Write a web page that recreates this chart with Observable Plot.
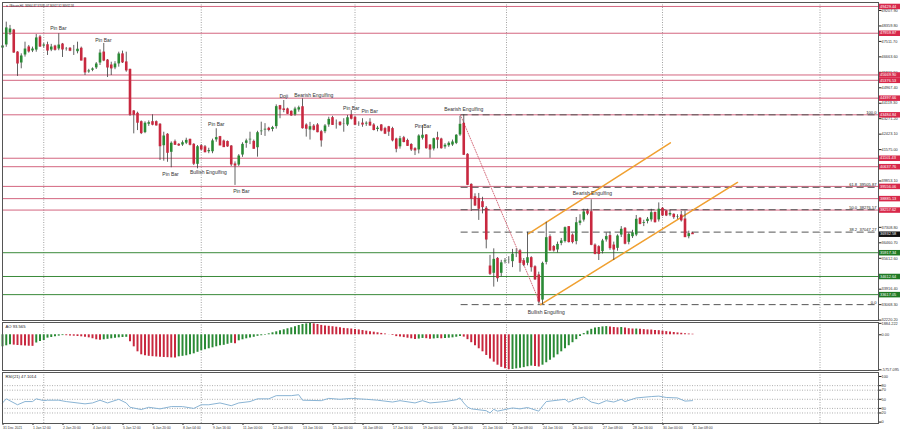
<!DOCTYPE html>
<html><head><meta charset="utf-8">
<script src="https://cdn.jsdelivr.net/npm/d3@7"></script>
<script src="https://cdn.jsdelivr.net/npm/@observablehq/plot@0.6"></script>
<style>
body{margin:0;background:#fff;}
#wrap{position:relative;width:900px;height:433px;overflow:hidden;background:#fff;}
#wrap svg{position:absolute;left:0;overflow:visible;}
</style></head><body><div id="wrap"></div>
<script>
// ---------- DATA ----------
const symbolTitle = "▼ #Bitcoin,H4  36964.87 37035.07 36917.32 36932.58";
const opens = [
47120,47290,47950,48110,46900,46300,46740,47180,46960,47010,
47730,47230,47300,47010,47230,47070,47340,47070,47110,47000,
46920,47110,46570,45810,45900,46030,46300,46900,46460,46190,
46030,46250,46800,46360,45950,43670,43540,43080,42480,42940,
43080,43080,42940,41760,42390,41400,41980,41840,41800,41900,
42110,41840,40740,41760,41700,41430,41430,42080,42260,42020,
41990,41745,40760,40700,41250,41890,42080,42000,41650,42530,
42620,42720,42650,42810,43960,43780,43780,43650,43450,43720,
43900,42900,42620,42840,42900,42530,42530,42900,43300,42930,
43050,42930,42900,43450,43320,42940,43000,42950,43050,42900,
42650,42900,42700,42800,42700,42130,41700,42200,42050,41830,
41600,41530,42170,42350,41800,41580,42200,42130,41690,41760,
41800,41890,42350,42990,41290,39640,38960,38870,38690,38330,
35160,34760,35580,34760,35390,35490,35400,35860,36000,35450,
35310,35620,35120,34670,33290,35360,36770,36230,36040,36400,
36500,37320,36860,36500,37500,37680,38180,38140,36310,36220,
35950,36590,36830,36310,36130,36860,37230,36460,36770,36860,
37780,37500,37600,37690,38100,37690,38330,38180,37960,38000,
37870,37960,37740,36770,36964.87];
const highs = [
47450,48570,48390,48170,46950,46830,47470,47290,47200,47890,
47840,47400,47470,47350,47300,47930,47400,47180,47170,47290,
47470,47200,46620,45980,46060,46350,47050,47400,46520,46370,
46400,46920,46980,46920,45990,43720,43630,43150,43100,43150,
43485,43150,43000,42530,42450,42000,42100,41900,42050,42200,
42150,41900,41800,41850,41800,41650,42150,42720,42300,42100,
42050,41800,40900,41300,41950,42150,42530,42100,42580,43080,
43000,42800,42850,44030,44000,44270,43850,43700,43900,43960,
44360,42990,43070,42950,43000,42630,42950,43350,43400,43200,
43100,43270,43450,43720,43400,43100,43270,43100,43270,43000,
42850,42950,42800,42850,42800,42200,42300,42300,42150,41900,
41680,42390,42900,42400,41850,42200,42530,42200,41900,42000,
42100,42400,43400,43485,41350,39700,39150,39170,38960,38450,
35770,36130,35650,35500,35600,35700,36100,36130,36100,35600,
37040,35700,35200,34850,35400,37590,36900,36310,36500,36700,
37330,37350,36950,37850,38000,38300,38300,38820,36400,36300,
36650,37000,37050,36500,36900,37350,37300,37000,37150,37960,
37850,37700,37850,38300,38150,38650,38400,38250,38250,38050,
38000,38180,38200,37100,37035.07];
const lows = [
46900,47190,47840,46860,45590,46010,46650,46870,46900,46920,
47180,47150,46740,46950,46980,47000,46630,46980,46950,46740,
46830,46450,45640,45760,45850,45970,46190,46400,45530,45640,
45960,46100,46300,45820,43400,42440,42620,42400,42450,42850,
42880,42870,40980,40940,40880,40580,41800,41750,41750,41850,
41780,40700,40520,41500,41400,41350,41350,41980,41800,41700,
41700,40650,39610,40650,41150,41650,41850,41600,41160,42350,
42300,42550,42550,42700,43270,43600,43500,43400,43400,43630,
42700,42260,42100,42600,42500,41710,42450,42800,42900,42700,
42850,42530,42850,43200,42900,42850,42800,42850,42850,42600,
42550,42550,42400,42300,42000,41400,41600,41950,41750,41470,
41250,41340,42100,41600,41100,41500,41620,41600,41600,41700,
41750,41850,42300,41250,39600,38180,38450,37690,38050,36130,
34670,34030,34300,34600,35300,35300,35100,35650,34850,35150,
35200,34850,34400,33100,33068,35250,36000,35950,35900,36300,
36450,36450,36400,36350,37400,37600,37950,36300,35800,35490,
35850,36500,36050,35490,36000,36750,36350,36350,36700,36800,
37450,37350,37500,37600,37550,37600,37900,37900,37900,37750,
37750,37600,36750,36680,36917.32];
const closes = [
47290,48280,48220,46900,46300,46740,47120,46960,47120,47730,
47230,47340,47010,47230,47050,47340,47070,47110,47000,47050,
47110,46460,45810,45920,46030,46300,46900,46460,46080,46030,
46300,46850,46360,45920,43490,43490,43050,42480,43050,43080,
42940,42900,41760,42350,41400,41950,41840,41800,41980,42110,
41840,40800,41760,41580,41430,41550,42080,42260,41800,41710,
41750,40760,40700,41250,41890,42080,42170,41620,42530,42620,
42720,42650,42810,43960,43780,43750,43540,43450,43830,43900,
42750,42720,42860,42660,42530,42080,42900,43260,42930,42980,
42930,43000,43350,43270,42940,43000,42950,43050,42900,42650,
42780,42620,42450,42560,42080,41620,42200,41990,41780,41580,
41530,42350,42390,41650,41580,42200,42120,41650,41840,41950,
42020,42390,42990,41290,39640,38880,38510,38330,38420,36640,
34760,35580,34520,35390,35490,35550,35860,35940,35360,35250,
35670,35120,34450,33240,35360,36770,36040,36040,36400,36590,
37320,36500,36500,37590,37680,38180,38060,36350,35850,35850,
36590,36830,36170,36090,36860,37230,36410,36950,37040,37780,
37500,37600,37780,38140,37590,38330,37960,37960,38100,37870,
37900,37690,36770,36990,36932.58];

// Awesome Oscillator histogram (one value per bar)
const aoValues = [
-1970,-1810,-1650,-1700,-1760,-1800,-1850,-1880,-1900,-1350,
-1100,-940,-550,-440,-330,-220,-130,-150,-180,-230,
-280,-330,-400,-500,-650,-820,-900,-820,-740,-660,
-580,-500,-440,-410,-1150,-1980,-2800,-3290,-3450,-3540,
-3600,-3650,-3700,-3730,-3760,-3800,-3830,-3620,-3540,-3450,
-3290,-3130,-2880,-2630,-2470,-2300,-2140,-1970,-1810,-1730,
-1560,-1400,-1480,-990,-820,-660,-540,-410,-250,-160,
-80,160,330,490,660,820,990,1150,1320,1530,
1700,1800,1884,1800,1700,1550,1450,1400,1330,1250,
1150,1050,1000,950,880,800,700,600,520,430,
330,230,120,20,-120,-300,-380,-460,-560,-660,
-760,-700,-600,-640,-720,-680,-620,-660,-620,-560,
-500,-400,-280,-380,-800,-1300,-1800,-2300,-2800,-3400,
-4000,-4500,-5000,-5350,-5600,-5757,-5700,-5600,-5500,-5400,
-5250,-5150,-5200,-5300,-5000,-4600,-4200,-3800,-3300,-2800,
-2300,-1800,-1300,-800,-300,200,600,900,1100,1200,
1300,1350,1300,1200,1150,1200,1100,1000,950,950,
900,850,800,780,720,680,600,520,450,380,
310,250,180,130,93.565];

// RSI(21) read at selected bars
const rsiBars = [0,1,4,6,8,9,11,12,15,17,22,24,26,28,31,33,34,37,39,42,45,48,51,53,55,58,61,63,66,68,71,73,77,79,80,85,87,90,93,97,100,104,106,110,112,114,118,121,122,123,124,125,129,130,131,132,136,138,140,143,144,145,150,151,153,155,157,159,161,163,165,166,169,173,175,177,180,182,184];
const rsiValues = [42,51,38,45,45,51,47,48,48,45,40,42,48,42,50,42,32.5,27.5,32.5,29,34,34,30,38,38,42,36,42,45,51,51,58,58,60,48,47,52,50,52,50,48,44,47,42,47,42,45,49,53,42,33,29,25,20,28,24,31,29,32,24,35,45,50,44,51,55,44,40,47,44,50,45,53,56,57,54,53,46,47.1];

// Horizontal levels
const redLevels = [49429.44,47959.87,45669.90,45376.53,44397.66,43484.84,41101.43,40637.76,39556.06,38885.13,38257.62];
const greenLevels = [35917.34,34612.64,33617.05];
const currentPrice = 36932.58;
const fibLevels = [43484.84,39505.87,38276.57,37047.27,33068.30];
const fibLabels = ["100.0","61.8  39505.87","50.0  38276.57","38.2  37047.27","0.0"];
const fibStartBar = 122.3;

// trend lines (bar index, price)
const chanUpperBars = [140.2,178.1], chanUpperPrices = [36955,41948];
const chanLowerBars = [143.5,196.0], chanLowerPrices = [33068,39771];
const diagBars = [122.1,143.5], diagPrices = [43485,33068];

// pattern annotations
const annText = ["Pin Bar","Pin Bar","Pin Bar","Bullish Engulfing","Pin Bar","Pin Bar","Doji","Bearish Engulfing","Pin Bar","Pin Bar","Pin Bar","Bearish Engulfing","Bearish Engulfing","Bullish Engulfing"];
const annBar = [14.9,26.9,44.8,54.9,57.0,63.7,75.0,83.0,93.0,97.9,112.1,123.0,157.3,145.0];
const annPrice = [48204,47562,40209,40336,42936,39277,44505,44544,43847,43666,42843,43776,39150,32620];

// axes
const priceTicks = [49207.90,48359.80,47511.70,46663.60,45815.50,44967.40,44119.30,43271.20,42423.10,41575.00,39853.10,37308.80,36460.70,35612.60,33916.40,33068.30,32220.20];
const aoTicks = [1884.222,0,-5757.095];
const aoTickLabels = ["1884.222","0.00","-5757.095"];
const rsiTicks = [100,80,70,50,30,20,0];
const rsiLevels = [80,70,50,30,20];
const timeBars = [0,8,16,24,32,40,48,56,64,72,80,88,96,104,112,120,128,136,144,152,160,168,176,184];
const timeLabels = ["31 Dec 2021","1 Jan 12:00","2 Jan 20:00","4 Jan 04:00","5 Jan 12:00","6 Jan 20:00","8 Jan 04:00","9 Jan 16:00","11 Jan 00:00","12 Jan 08:00","13 Jan 16:00","15 Jan 00:00","16 Jan 08:00","17 Jan 16:00","19 Jan 00:00","20 Jan 08:00","21 Jan 16:00","23 Jan 08:00","24 Jan 16:00","26 Jan 00:00","27 Jan 08:00","28 Jan 16:00","30 Jan 00:00","31 Jan 08:00"];
const gridBars = [11,53,94,134.4,176,218];
const aoLabel = "AO 93.565";
const rsiLabel = "RSI(21) 47.1014";

// ---------- DRAW ----------
const n = opens.length;
if ([highs,lows,closes,aoValues].some(a => a.length !== n)) throw new Error("length mismatch " + [opens.length,highs.length,lows.length,closes.length,aoValues.length]);
const idx = d3.range(n);
const xMax = 233.6;
const boxW = 22/3.75;
const FONT = "Liberation Sans, Arial, sans-serif";
const GREEN = "#2a8a35", RED = "#c8283f";
const AX = 3.9;   // axis label size
const common = {width: 900, marginLeft: 2, marginRight: 22, style: {fontFamily: FONT, fontSize: "4px", background: "transparent", color: "#222"}};
const xScale = {type: "linear", domain: [0, xMax], axis: null};
const wrap = document.getElementById("wrap");
function place(svg, top){ svg.style.top = top + "px"; wrap.appendChild(svg); }
const boxText = {x: xMax, y: d => d, text: d => d.toFixed(2), textAnchor: "start", dx: 1.5, fontSize: AX, fill: "white"};

const main = Plot.plot({
  ...common, height: 322, marginTop: 2, marginBottom: 2,
  x: xScale,
  y: {domain: [32198, 49647], axis: null},
  marks: [
    Plot.ruleX(gridBars, {stroke: "#8a8a8a", strokeDasharray: "1,1.5", strokeWidth: 0.8}),
    Plot.ruleY(redLevels, {stroke: "#c84060", strokeOpacity: 0.8, strokeWidth: 1}),
    Plot.ruleY(greenLevels, {stroke: "#3a8a3a", strokeWidth: 1}),
    Plot.ruleY(fibLevels, {x1: fibStartBar, x2: xMax, stroke: "#555", strokeDasharray: "7,4", strokeWidth: 1}),
    Plot.text(fibLevels, {x: xMax, y: d => d, text: (d, i) => fibLabels[i], textAnchor: "end", dx: -2, dy: -2.2, fontSize: 4.1, fill: "#222"}),
    Plot.line(diagBars.map((b, i) => [b, diagPrices[i]]), {x: d => d[0], y: d => d[1], stroke: "#d06070", strokeDasharray: "1,1.5", strokeWidth: 0.9}),
    Plot.line(chanUpperBars.map((b, i) => [b, chanUpperPrices[i]]), {x: d => d[0], y: d => d[1], stroke: "#f0a030", strokeWidth: 1.5}),
    Plot.line(chanLowerBars.map((b, i) => [b, chanLowerPrices[i]]), {x: d => d[0], y: d => d[1], stroke: "#f0a030", strokeWidth: 1.5}),
    Plot.ruleX(idx, {x: i => i, y1: i => lows[i], y2: i => highs[i], stroke: "#3a3a3a", strokeWidth: 0.8}),
    Plot.ruleX(idx, {x: i => i, y1: i => opens[i], y2: i => closes[i], stroke: i => closes[i] >= opens[i] ? GREEN : RED, strokeWidth: 2.6, insetTop: -0.5, insetBottom: -0.5}),
    Plot.text(annText, {x: (d, i) => annBar[i], y: (d, i) => annPrice[i], text: d => d, fontSize: 5, fill: "#333"}),
    Plot.axisY(priceTicks, {anchor: "right", tickFormat: d => d.toFixed(2), tickSize: 2.5, tickPadding: 0.5, fontSize: AX, fill: "#333"}),
    Plot.ruleY(redLevels, {x1: xMax, x2: xMax + boxW, stroke: "#d8284a", strokeWidth: 5.5}),
    Plot.text(redLevels, boxText),
    Plot.ruleY(greenLevels, {x1: xMax, x2: xMax + boxW, stroke: "#1f7a24", strokeWidth: 5.5}),
    Plot.text(greenLevels, boxText),
    Plot.ruleY([currentPrice], {x1: xMax, x2: xMax + boxW, stroke: "#111", strokeWidth: 5.5}),
    Plot.text([currentPrice], boxText),
    Plot.text([symbolTitle], {frameAnchor: "top-left", dx: 3, dy: 2, fontSize: 2.8, fill: "#222"}),
    Plot.frame({stroke: "#555", strokeWidth: 1})
  ]
});
place(main, 0);

const ao = Plot.plot({
  ...common, height: 52, marginTop: 2, marginBottom: 2,
  x: xScale,
  y: {domain: [-5873, 2023], axis: null},
  marks: [
    Plot.ruleX(gridBars, {stroke: "#8a8a8a", strokeDasharray: "1,1.5", strokeWidth: 0.8}),
    Plot.ruleX(idx, {x: i => i, y1: 0, y2: i => aoValues[i], stroke: i => (i === 0 || aoValues[i] >= aoValues[i - 1]) ? GREEN : RED, strokeWidth: 2}),
    Plot.axisY(aoTicks, {anchor: "right", tickFormat: d => aoTickLabels[aoTicks.indexOf(d)], tickSize: 2.5, tickPadding: 0.5, fontSize: AX, fill: "#333"}),
    Plot.text([aoLabel], {frameAnchor: "top-left", dx: 3, dy: 2.5, fontSize: 4.2, fill: "#222"}),
    Plot.frame({stroke: "#555", strokeWidth: 1})
  ]
});
place(ao, 320);

const rsi = Plot.plot({
  ...common, height: 63, marginTop: 2, marginBottom: 10,
  x: xScale,
  y: {domain: [-3.1, 108.8], axis: null},
  marks: [
    Plot.ruleX(gridBars, {stroke: "#8a8a8a", strokeDasharray: "1,1.5", strokeWidth: 0.8}),
    Plot.ruleY(rsiLevels, {stroke: "#9a9a9a", strokeDasharray: "1,1.5", strokeWidth: 0.8}),
    Plot.line(rsiBars.map((b, i) => [b, rsiValues[i]]), {x: d => d[0], y: d => d[1], stroke: "#8ab4d4", strokeWidth: 1}),
    Plot.axisY(rsiTicks, {anchor: "right", tickFormat: d => String(d), tickSize: 2.5, tickPadding: 0.5, fontSize: AX, fill: "#333"}),
    Plot.axisX(timeBars, {anchor: "bottom", tickFormat: d => timeLabels[timeBars.indexOf(d)], tickSize: 2, tickPadding: 1.5, textAnchor: "start", dx: 0.5, fontSize: 3.4, fill: "#333"}),
    Plot.text([rsiLabel], {frameAnchor: "top-left", dx: 3, dy: 2.5, fontSize: 4.2, fill: "#222"}),
    Plot.frame({stroke: "#555", strokeWidth: 1})
  ]
});
place(rsi, 370);
</script></body></html>
